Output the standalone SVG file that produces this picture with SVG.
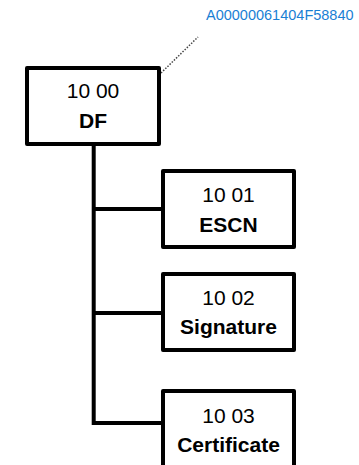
<svg xmlns="http://www.w3.org/2000/svg" width="359" height="465" viewBox="0 0 359 465">
<style>
.box{fill:#fff;stroke:#000;stroke-width:4;stroke-linejoin:round}
.con{fill:none;stroke:#000;stroke-width:4;stroke-linejoin:miter}
.t{font-family:"Liberation Sans",Arial,sans-serif;font-size:21px;text-anchor:middle;fill:#000}
.b{font-weight:bold}
.aid{font-family:"Liberation Sans",Arial,sans-serif;font-size:14.5px;fill:#1a7fd4}
</style>
<rect width="359" height="465" fill="#fff"/>
<g id="connectors">
<polyline class="con" points="93.7,146 93.7,423 163,423"/>
<line class="con" x1="93.7" y1="209" x2="163" y2="209"/>
<line class="con" x1="93.7" y1="313" x2="163" y2="313"/>
<line x1="161" y1="73" x2="198" y2="37" stroke="#444" stroke-width="1.5" stroke-dasharray="1.5,1.5"/>
</g>
<g id="aid-label">
<text class="aid" x="206" y="20">A00000061404F58840</text>
</g>
<g id="node-df">
<rect class="box" x="27" y="68" width="132" height="76"/>
<text class="t" x="93" y="98">10 00</text>
<text class="t b" x="93" y="128">DF</text>
</g>
<g id="node-escn">
<rect class="box" x="163" y="171" width="131" height="76"/>
<text class="t" x="228.5" y="202">10 01</text>
<text class="t b" x="228.5" y="232">ESCN</text>
</g>
<g id="node-signature">
<rect class="box" x="163" y="274" width="131" height="76"/>
<text class="t" x="228.5" y="305">10 02</text>
<text class="t b" x="228.5" y="334">Signature</text>
</g>
<g id="node-certificate">
<rect class="box" x="163" y="391" width="131" height="80"/>
<text class="t" x="228.5" y="423">10 03</text>
<text class="t b" x="228.5" y="452">Certificate</text>
</g>
</svg>
